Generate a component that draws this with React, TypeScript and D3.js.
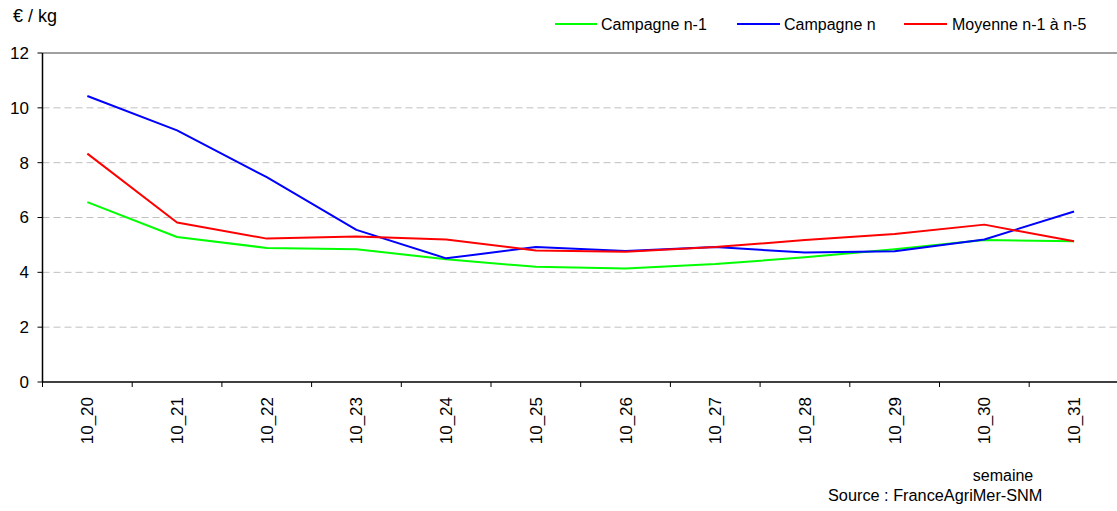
import React from "react";
import * as d3 from "d3";

const weeks = ["10_20", "10_21", "10_22", "10_23", "10_24", "10_25", "10_26", "10_27", "10_28", "10_29", "10_30", "10_31"];
const campagnePrev = [6.56, 5.29, 4.89, 4.84, 4.48, 4.2, 4.14, 4.3, 4.55, 4.84, 5.18, 5.13];
const campagne = [10.43, 9.18, 7.47, 5.55, 4.51, 4.92, 4.78, 4.92, 4.72, 4.77, 5.2, 6.22];
const moyenne = [8.33, 5.82, 5.23, 5.31, 5.2, 4.8, 4.75, 4.92, 5.18, 5.4, 5.74, 5.13];
const yTicks = [0, 2, 4, 6, 8, 10, 12];

const series = [
  { name: "Campagne n-1", values: campagnePrev, color: "#00ff00" },
  { name: "Campagne n", values: campagne, color: "#0000ff" },
  { name: "Moyenne n-1 à n-5", values: moyenne, color: "#ff0000" },
];

const W = 1117;
const H = 511;
const left = 42.5;
const top = 53;
const bottom = 382;
const font = "'Liberation Sans', Arial, sans-serif";

const App: React.FC = () => {
  const x = d3.scaleBand<string>().domain(weeks).range([left, left + 89.7 * weeks.length]);
  const y = d3.scaleLinear().domain([0, 12]).range([bottom, top]);

  const line = d3
    .line<number>()
    .x((_, i) => x(weeks[i])! + x.bandwidth() / 2)
    .y((d) => y(d));

  const legendPos = [
    { x1: 555, x2: 597, tx: 601 },
    { x1: 737, x2: 780, tx: 784 },
    { x1: 904, x2: 947, tx: 952 },
  ];

  return (
    <svg width={W} height={H} style={{ position: "absolute", left: 0, top: 0 }} fontFamily={font}>
      <rect width={W} height={H} fill="#fff" />

      {/* grid */}
      {yTicks.slice(1, -1).map((t) => (
        <line key={t} x1={left} x2={W} y1={y(t)} y2={y(t)} stroke="#c0c0c0" strokeDasharray="7,4" strokeWidth={1} />
      ))}
      <line x1={left} x2={W} y1={y(12)} y2={y(12)} stroke="#808080" strokeWidth={1.5} />

      {/* series */}
      {series.map((s) => (
        <path key={s.name} d={line(s.values)!} fill="none" stroke={s.color} strokeWidth={2} strokeLinejoin="round" />
      ))}

      {/* y axis */}
      <line x1={left} x2={left} y1={top} y2={bottom} stroke="#000" strokeWidth={1.5} />
      {yTicks.map((t) => (
        <g key={t}>
          <line x1={left - 5} x2={left} y1={y(t)} y2={y(t)} stroke="#000" strokeWidth={1} />
          <text x={29} y={y(t)} dy="0.35em" textAnchor="end" fontSize={17} fill="#000">
            {t}
          </text>
        </g>
      ))}

      {/* x axis */}
      <line x1={left} x2={W} y1={bottom} y2={bottom} stroke="#000" strokeWidth={1.5} />
      {weeks.map((w) => (
        <line key={"t" + w} x1={x(w)!} x2={x(w)!} y1={bottom} y2={bottom + 5} stroke="#000" strokeWidth={1} />
      ))}
      {weeks.map((w) => {
        const cx = x(w)! + x.bandwidth() / 2;
        return (
          <text
            key={w}
            transform={`translate(${cx},397) rotate(-90)`}
            dy="0.35em"
            textAnchor="end"
            fontSize={17}
            fill="#000"
          >
            {w}
          </text>
        );
      })}

      {/* titles */}
      <text x={13} y={22} fontSize={18} fill="#000">
        € / kg
      </text>
      <text x={1003} y={481} textAnchor="middle" fontSize={16} fill="#000">
        semaine
      </text>
      <text x={828} y={501} fontSize={16.3} fill="#000">
        Source : FranceAgriMer-SNM
      </text>

      {/* legend */}
      {series.map((s, i) => (
        <g key={"l" + s.name}>
          <line x1={legendPos[i].x1} x2={legendPos[i].x2} y1={24} y2={24} stroke={s.color} strokeWidth={2} />
          <text x={legendPos[i].tx} y={24} dy="0.35em" fontSize={16} fill="#000">
            {s.name}
          </text>
        </g>
      ))}
    </svg>
  );
};

export default App;
